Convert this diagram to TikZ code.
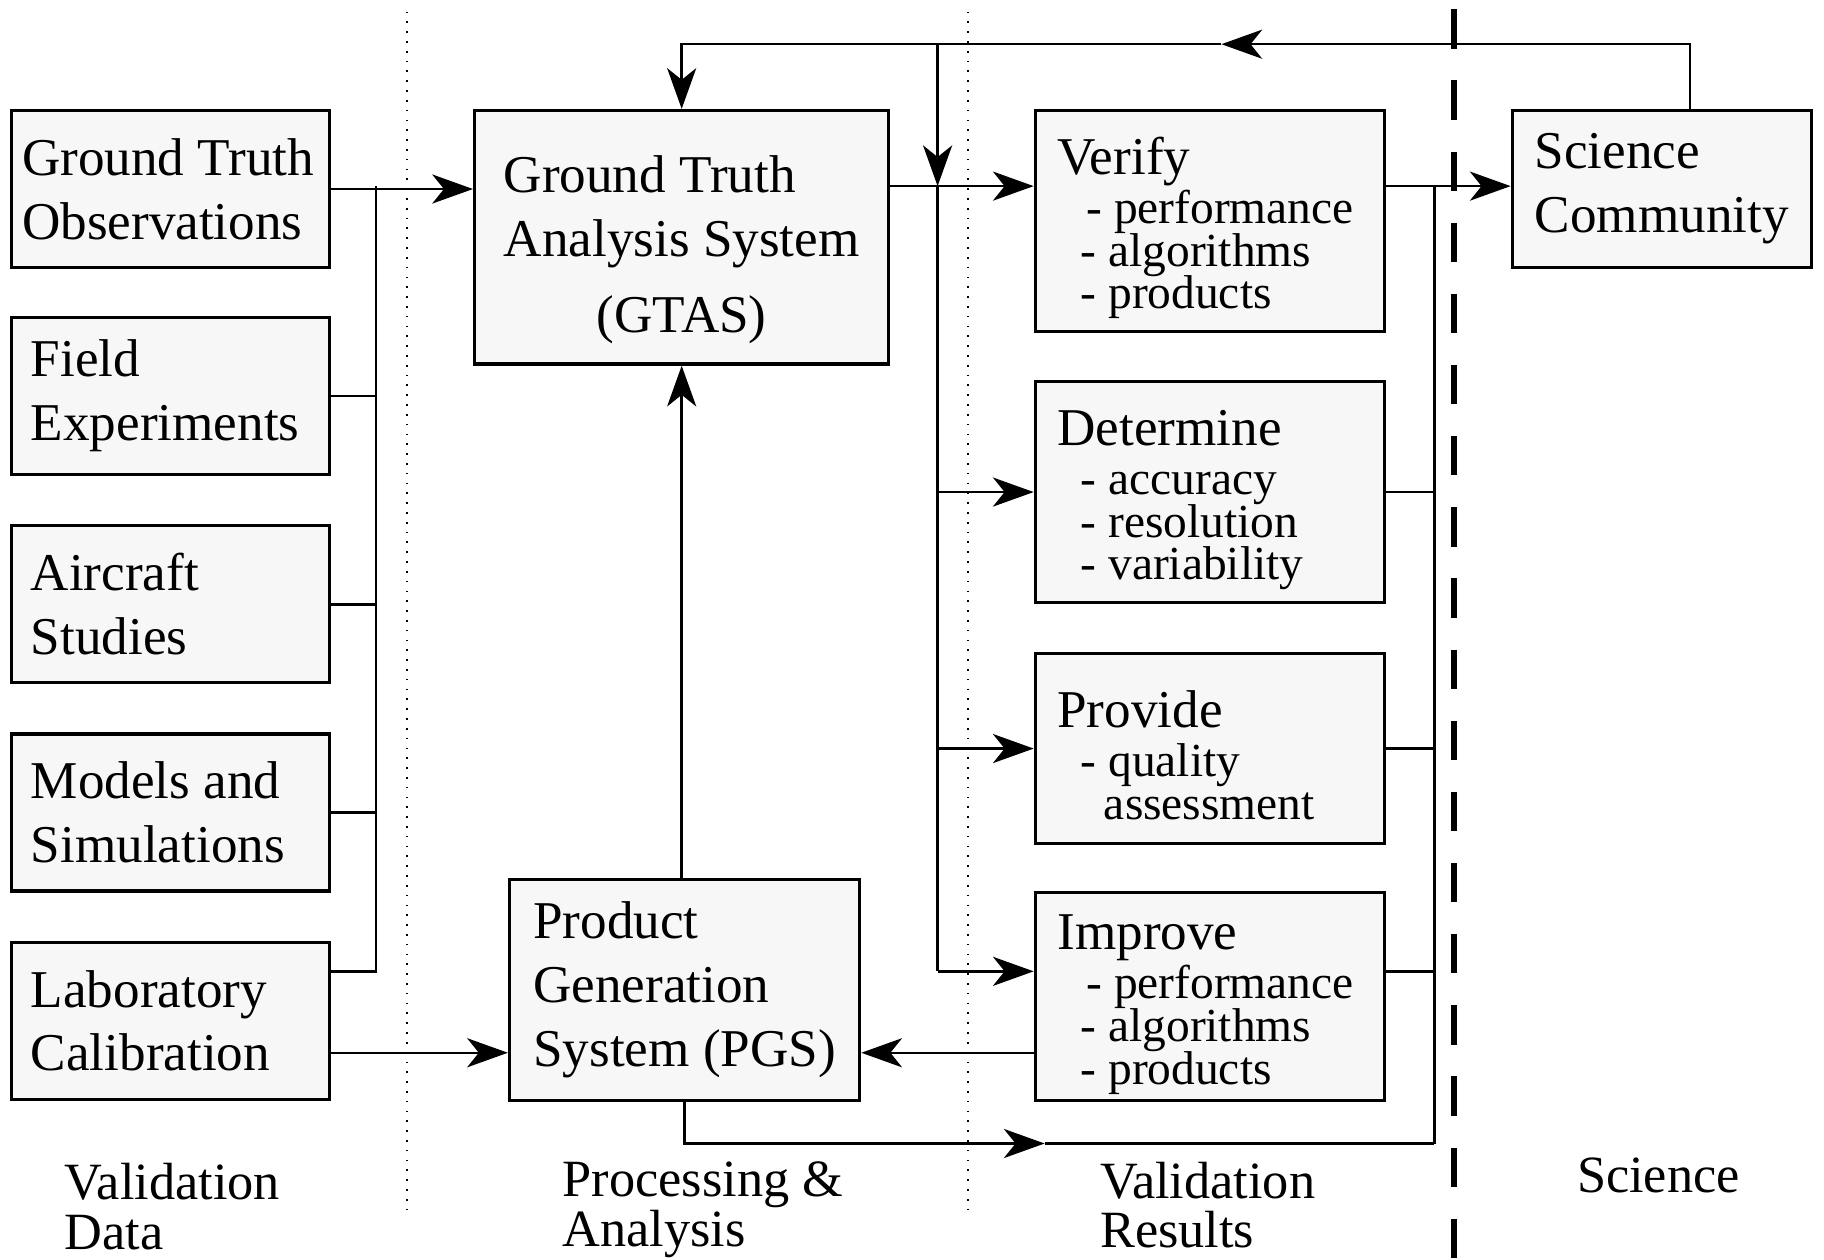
\documentclass[tikz,border=0pt]{standalone}
\usepackage{fontspec}
\setmainfont{Liberation Serif}
\usetikzlibrary{arrows.meta}
\newcommand{\ttl}[1]{{\fontsize{13}{10.5}\selectfont\rule{0pt}{12.5pt}#1}}
\newcommand{\tightls}{\lineskiplimit=-20pt\relax}
\begin{document}
\begin{tikzpicture}[>={Stealth[length=3.5mm,width=2.5mm,inset=1mm]},
    box/.style={draw,line width=0.8pt,fill=black!3,align=flush left,inner sep=0pt,font=\fontsize{13}{15.6}\selectfont},
    sbox/.style={box,minimum width=2.73cm,minimum height=1.35cm,text width=2.40cm},
    lbox/.style={box,minimum width=3cm,text width=2.62cm,font=\fontsize{11.6}{10.5}\selectfont\tightls},
    zone/.style={anchor=north west,align=left,inner sep=0pt,font=\fontsize{12.8}{12.2}\selectfont}]

                \useasboundingbox (0,0) rectangle (15.68,-10.83);
                \draw[dotted,thin] (3.50,-0.10)--(3.50,-10.40); %区切り1
                \draw[dotted,thin] (8.32,-0.10)--(8.32,-10.40); %区切り2
                \draw[line width=1.5pt,dash pattern=on 9.6pt off 7.8pt] (12.50,-0.08)--(12.50,-10.83); %区切り3

                \node[sbox,text width=2.55cm] (obs) at (1.465,-1.625) {Ground Truth\\Observations};
                \node[sbox] (field) at (1.465,-3.405) {Field\\Experiments};
                \node[sbox] (air) at (1.465,-5.195) {Aircraft\\Studies};
                \node[sbox] (model) at (1.465,-6.985) {Models and\\Simulations};
                \node[sbox] (labcal) at (1.465,-8.775) {Laboratory\\Calibration};

                \node[box,minimum width=3.56cm,minimum height=2.18cm] (gtas) at (5.86,-2.04)
                    {\begin{tabular}{@{}l@{}}\rule{0pt}{17pt}Ground Truth\\Analysis System\\[3pt]\multicolumn{1}{@{}c@{}}{(GTAS)}\end{tabular}};
                \node[box,minimum width=3.01cm,minimum height=1.90cm] (pgs) at (5.885,-8.51) {Product\\Generation\\System (PGS)};

                \node[lbox,minimum height=1.90cm] (ver) at (10.40,-1.90)
                    {\ttl{Verify}\\[1.5pt]\hspace*{2.5mm}- performance\\\hspace*{2mm}- algorithms\\\hspace*{2mm}- products};
                \node[lbox,minimum height=1.90cm] (det) at (10.40,-4.23)
                    {\ttl{Determine}\\[1.5pt]\hspace*{2mm}- accuracy\\\hspace*{2mm}- resolution\\\hspace*{2mm}- variability};
                \node[lbox,minimum height=1.63cm] (prov) at (10.40,-6.435)
                    {\ttl{Provide}\\[1.5pt]\hspace*{2mm}- quality\\\hspace*{4mm}assessment};
                \node[lbox,minimum height=1.79cm] (imp) at (10.40,-8.565)
                    {\ttl{Improve}\\[1.5pt]\hspace*{2.5mm}- performance\\\hspace*{2mm}- algorithms\\\hspace*{2mm}- products};

                \node[box,minimum width=2.57cm,minimum height=1.35cm] (sci) at (14.285,-1.625) {Science\\Community};

                \coordinate (jL) at (3.23,-1.60); %左の縦線 上端
                \coordinate (jLb) at (3.23,-8.35); %左の縦線 下端
                \coordinate (low) at (0,-9.05); %PGSへの矢印の高さ
                \coordinate (vT) at (8.06,-0.38); %中央の縦線 上端
                \coordinate (vJ) at (8.06,-1.60); %中央の縦線 交点
                \coordinate (vB) at (8.06,-8.35); %中央の縦線 下端
                \coordinate (fbR) at (14.53,-0.38); %戻り線 右端
                \coordinate (fbM) at (10.50,-0.38); %戻り線 矢印
                \coordinate (rT) at (12.33,-1.60); %右の縦線 上端
                \coordinate (rB) at (12.33,-9.83); %右の縦線 下端
                \coordinate (botM) at (8.98,-9.83); %下の線 矢印

                \draw[semithick] (jL)--(jLb)--(jLb -| labcal.east);
                \foreach \n in {field,air,model} \draw[semithick] (\n.east)--(\n.east -| jL);
                \draw[->,semithick] (obs.east)--(obs.east -| gtas.west);
                \draw[->,semithick] (labcal.east |- low)--(pgs.west |- low);
                \draw[->,semithick] (imp.west |- low)--(pgs.east |- low);
                \draw[->,semithick] (gtas.south |- pgs.north)--(gtas.south);

                \draw[->,semithick] (fbR |- sci.north)--(fbR)--(fbM);
                \draw[->,semithick] (fbM)--(fbM -| gtas.north)--(gtas.north);
                \draw[->,semithick] (vT)--(vJ);
                \draw[semithick] (vJ)--(vB);
                \draw[->,semithick] (gtas.east |- vJ)--(ver.west |- vJ);
                \foreach \n in {det,prov} \draw[->,semithick] (\n.west -| vJ)--(\n.west);
                \draw[->,semithick] (vB)--(vB -| imp.west);

                \draw[->,semithick] (ver.east |- rT)--(sci.west |- rT);
                \draw[semithick] (rT)--(rB);
                \foreach \n in {det,prov} \draw[semithick] (\n.east)--(\n.east -| rT);
                \draw[semithick] (imp.east |- vB)--(rT |- vB);
                \draw[->,semithick] (pgs.south)|-(botM);
                \draw[semithick] (botM)--(rB);

                \node[zone] (zd) at (0.55,-9.99) {Validation\\Data};
                \node[zone] (zp) at (4.83,-9.98) {Processing \&\\Analysis};
                \node[zone] (zr) at (9.45,-9.98) {Validation\\Results};
                \node[zone] (zs) at (13.55,-9.95) {Science};

            \end{tikzpicture}
\end{document}
